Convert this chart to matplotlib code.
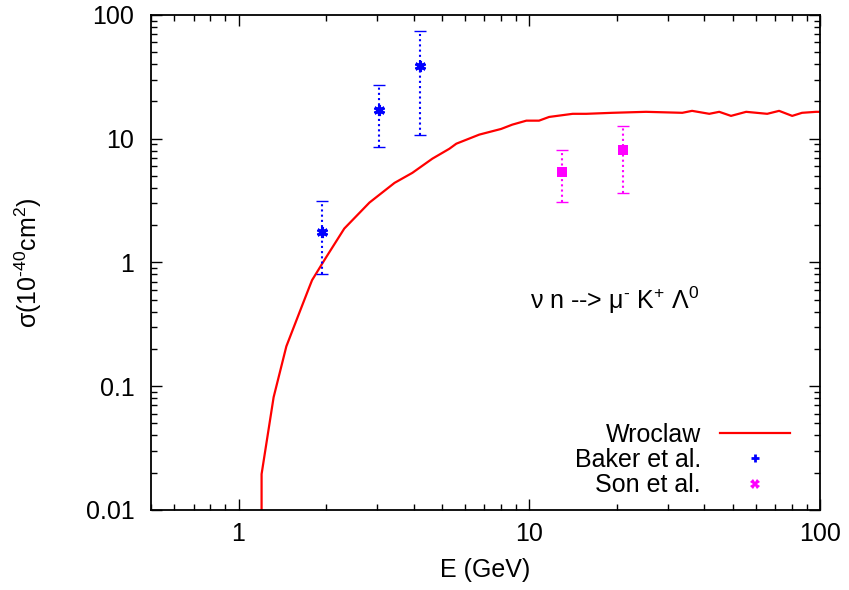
import numpy as np
import matplotlib
matplotlib.use("Agg")
import matplotlib.pyplot as plt
from matplotlib.ticker import FuncFormatter, NullFormatter, LogLocator
from matplotlib.lines import Line2D

plt.rcParams['font.family'] = ['Liberation Sans', 'DejaVu Sans']
plt.rcParams['mathtext.fontset'] = 'custom'
plt.rcParams['mathtext.rm'] = 'Liberation Sans'
plt.rcParams['mathtext.it'] = 'Liberation Sans'

FS = 18

# Wroclaw prediction
wro_E = [1.2, 1.2, 1.32, 1.46, 1.62, 1.75, 1.79, 1.94, 2.0, 2.31, 2.82, 3.44, 3.96,
         4.64, 5.31, 5.61, 6.73, 8.0, 8.74, 9.77, 10.8, 11.7, 14.1, 15.7, 19.3,
         25.2, 33.6, 36.3, 41.6, 45.0, 49.4, 55.7, 65.8, 72.3, 80.2, 86.7, 96.9, 100.0]
wro_sig = [0.0095, 0.0195, 0.0815, 0.21, 0.395, 0.63, 0.72, 0.98, 1.1, 1.88, 3.05, 4.4, 5.3,
           6.9, 8.3, 9.12, 10.8, 12.0, 13.0, 14.0, 14.0, 15.0, 15.9, 15.9, 16.2,
           16.5, 16.2, 16.8, 15.9, 16.5, 15.3, 16.5, 15.9, 16.8, 15.3, 16.2, 16.5, 16.5]

# Baker et al.
baker_E = [1.94, 3.03, 4.22]
baker_sig = [1.78, 17.1, 38.8]
baker_lo = [0.81, 8.5, 10.8]
baker_hi = [3.16, 27.3, 74.0]

# Son et al.
son_E = [13.0, 21.0]
son_sig = [5.4, 8.15]
son_lo = [3.1, 3.67]
son_hi = [8.15, 12.7]

fig = plt.figure(figsize=(8.49, 5.9), dpi=100)
ax = fig.add_axes([0.1779, 0.1356, 0.788, 0.839])

ax.plot(wro_E, wro_sig, color='#ff0000', lw=1.6, solid_joinstyle='round')


def add_points(E, s, lo, hi, color, marker, ms, mew):
    s = np.array(s)
    yerr = np.vstack([s - np.array(lo), np.array(hi) - s])
    line, caps, bars = ax.errorbar(E, s, yerr=yerr, fmt='none', ecolor=color,
                                   elinewidth=1.5, capsize=4, capthick=1.0)
    for b in bars:
        b.set_linestyle((0, (1, 1.5)))
    ax.plot(E, s, ls='none', marker=marker, color=color, ms=ms, mew=mew)


add_points(baker_E, baker_sig, baker_lo, baker_hi, '#0000ff', (6, 2, 0), 8, 2.2)
add_points(son_E, son_sig, son_lo, son_hi, '#ff00ff', 's', 7.5, 0)

ax.set_xscale('log')
ax.set_yscale('log')
ax.set_xlim(0.5, 100)
ax.set_ylim(0.01, 100)

fmt = FuncFormatter(lambda v, p: '%g' % v)
ax.xaxis.set_major_formatter(fmt)
ax.yaxis.set_major_formatter(fmt)
ax.xaxis.set_minor_locator(LogLocator(subs=np.arange(2, 10), numticks=20))
ax.yaxis.set_minor_locator(LogLocator(subs=np.arange(2, 10), numticks=20))
ax.xaxis.set_minor_formatter(NullFormatter())
ax.yaxis.set_minor_formatter(NullFormatter())

ax.tick_params(which='both', direction='in', top=True, right=True, labelsize=FS)
ax.tick_params(which='major', length=8, width=1.0)
ax.tick_params(which='minor', length=4.5, width=1.0)
ax.tick_params(axis='y', pad=12)
ax.tick_params(axis='x', pad=9)
for sp in ax.spines.values():
    sp.set_linewidth(1.3)

ax.set_xlabel('E (GeV)', fontsize=FS, labelpad=8)
ax.set_ylabel(r'σ(10$^{\text{-40}}$cm$^{\text{2}}$)', fontsize=FS, labelpad=30)

ax.text(0.567, 0.424, r'ν n --> μ$^{\text{-}}$ K$^{\text{+}}$ Λ$^{\text{0}}$',
        transform=ax.transAxes, fontsize=FS, ha='left', va='center')

handles = [Line2D([], [], color='#ff0000', lw=1.6),
           Line2D([], [], ls='none', marker='+', color='#0000ff', ms=6, mew=2),
           Line2D([], [], ls='none', marker='X', color='#ff00ff', ms=7, mew=0)]
labels = ['Wroclaw', 'Baker et al.', 'Son et al.']
ax.legend(handles, labels, loc='lower right', frameon=False, markerfirst=False,
          fontsize=FS, handlelength=2.8, handletextpad=0.75, labelspacing=0.05,
          borderaxespad=0.2, bbox_to_anchor=(0.977, -0.005))

fig.savefig('out.png', dpi=100)
